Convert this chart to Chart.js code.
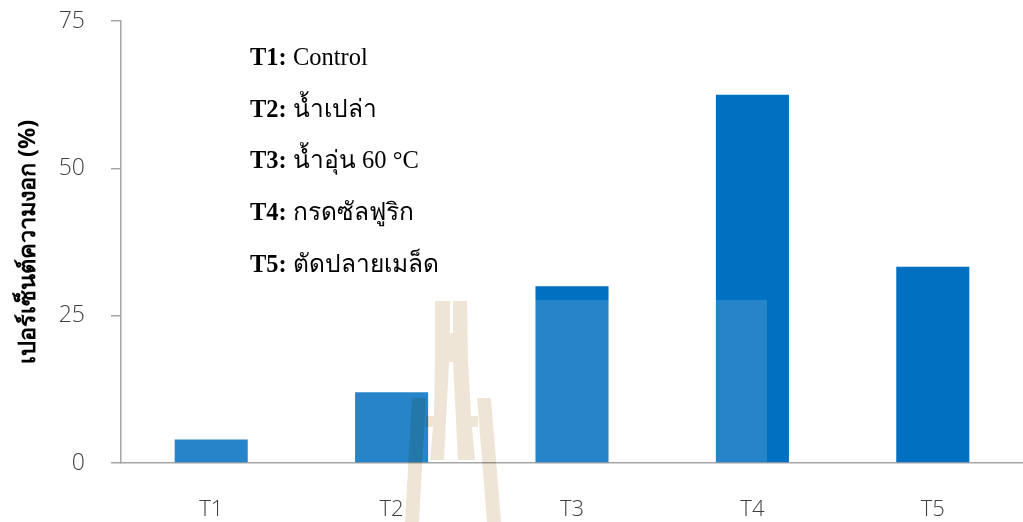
<!DOCTYPE html>
<html>
<head>
<meta charset="utf-8">
<script src="https://cdn.jsdelivr.net/npm/chart.js@4.4.1/dist/chart.umd.min.js"></script>
<style>
  html, body { margin: 0; padding: 0; background: #ffffff; }
  #wrap { position: relative; width: 1023px; height: 522px; }
  #chart { position: absolute; left: 0; top: 0; }
  #notes {
    position: absolute; left: 250px; top: 31px;
    font-family: "Liberation Serif", "Times New Roman", serif;
    font-size: 24.5px; color: #000; line-height: 51.7px;
  }
  #notes div { white-space: nowrap; }
</style>
</head>
<body>
<div id="wrap">
  <canvas id="chart" width="1023" height="522"></canvas>
  <div id="notes"></div>
</div>
<script>
// Treatments and germination percentage
const categories = ['T1', 'T2', 'T3', 'T4', 'T5'];
const germination = [4, 12, 30, 62.5, 33.3];
const yTicks = [0, 25, 50, 75];
const treatmentCodes = ['T1:', 'T2:', 'T3:', 'T4:', 'T5:'];
const treatmentNames = ['Control', 'น้ำเปล่า', 'น้ำอุ่น 60 °C', 'กรดซัลฟูริก', 'ตัดปลายเมล็ด'];
const yTitle = 'เปอร์เซ็นต์ความงอก (%)';

// Treatment key
const notes = document.getElementById('notes');
treatmentCodes.forEach((code, i) => {
  const row = document.createElement('div');
  const b = document.createElement('b');
  b.textContent = code;
  row.appendChild(b);
  row.appendChild(document.createTextNode(' ' + treatmentNames[i]));
  notes.appendChild(row);
});

// Faint university seal drawn across the lower plot
const watermark = {
  id: 'watermark',
  afterDatasetsDraw(chart) {
    const ctx = chart.ctx;
    ctx.save();
    ctx.fillStyle = 'rgba(255,255,255,0.15)';
    ctx.fillRect(137, 300, 630, chart.chartArea.bottom - 1 - 300);
    ctx.restore();
  },
  afterDraw(chart) {
    const ctx = chart.ctx;
    ctx.save();
    ctx.globalCompositeOperation = 'multiply';
    ctx.fillStyle = '#EEE5D6';
    const poly = pts => {
      ctx.beginPath();
      ctx.moveTo(pts[0][0], pts[0][1]);
      for (let i = 1; i < pts.length; i++) ctx.lineTo(pts[i][0], pts[i][1]);
      ctx.closePath();
      ctx.fill();
    };
    // centre spire
    poly([[435, 301], [450, 301], [450, 333], [453, 333], [453, 301], [467, 301],
          [468, 360], [471, 416], [478, 416], [478, 427], [472, 427], [475, 460],
          [458, 460], [453, 362], [449, 362], [444, 460], [430, 460], [433, 427],
          [426, 427], [426, 416], [434, 416], [435, 360]]);
    // outer legs
    poly([[412, 398], [426, 398], [419, 522], [405, 522]]);
    poly([[477, 398], [491, 398], [501, 522], [487, 522]]);
    ctx.restore();
  }
};

new Chart(document.getElementById('chart'), {
  type: 'bar',
  data: {
    labels: categories,
    datasets: [{
      data: germination,
      backgroundColor: '#0070C0',
      borderWidth: 0,
      barPercentage: 0.405,
      categoryPercentage: 1.0
    }]
  },
  plugins: [watermark],
  options: {
    responsive: false,
    animation: false,
    layout: { padding: { top: 21, left: 0, right: 0, bottom: 0 } },
    plugins: { legend: { display: false }, tooltip: { enabled: false } },
    scales: {
      x: {
        grid: { display: false, drawTicks: false },
        border: { display: true, color: '#A6A6A6', width: 1.5 },
        ticks: {
          color: '#404040', padding: 34,
          font: { family: '"Open Sans", "DejaVu Sans", sans-serif', size: 22, weight: 300 }
        },
        afterFit(scale) { scale.height = 59; scale.paddingLeft = 0; scale.paddingRight = 0; }
      },
      y: {
        min: 0, max: 75,
        afterBuildTicks(scale) { scale.ticks = yTicks.map(v => ({ value: v })); },
        grid: { drawOnChartArea: false, drawTicks: true, tickLength: 10, color: '#A6A6A6', lineWidth: 1.5 },
        border: { display: true, color: '#A6A6A6', width: 1.5 },
        ticks: {
          color: '#404040', padding: 26,
          font: { family: '"Open Sans", "DejaVu Sans", sans-serif', size: 23, weight: 300 }
        },
        title: {
          display: true, text: yTitle, color: '#000',
          font: { family: '"Noto Sans", "DejaVu Sans", sans-serif', size: 23.5, weight: 'bold' },
          padding: { top: 14, bottom: 0 }
        },
        afterFit(scale) { scale.width = 121; scale.paddingTop = 0; scale.paddingBottom = 0; }
      }
    }
  }
});
</script>
</body>
</html>
